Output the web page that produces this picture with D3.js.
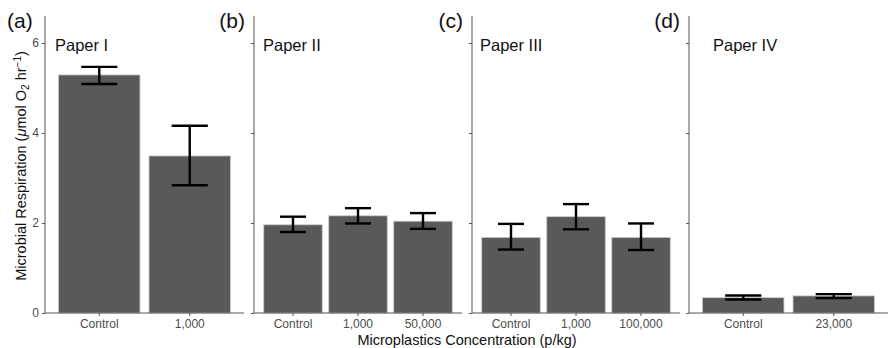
<!DOCTYPE html>
<html><head><meta charset="utf-8">
<script src="https://cdn.jsdelivr.net/npm/d3@7"></script>
<style>body{margin:0;background:#fff}svg{display:block;font-family:"Liberation Sans",Arial,sans-serif}</style>
</head><body><svg id="c" width="890" height="348"></svg>
<script>
const panelTags = ["(a)", "(b)", "(c)", "(d)"];
const panelTitles = ["Paper I", "Paper II", "Paper III", "Paper IV"];
const categoriesA = ["Control", "1,000"];
const categoriesB = ["Control", "1,000", "50,000"];
const categoriesC = ["Control", "1,000", "100,000"];
const categoriesD = ["Control", "23,000"];
const meansA = [5.29, 3.49];
const meansB = [1.96, 2.16, 2.04];
const meansC = [1.68, 2.14, 1.68];
const meansD = [0.34, 0.38];
const upperA = [5.47, 4.16];
const lowerA = [5.09, 2.84];
const upperB = [2.14, 2.33, 2.22];
const lowerB = [1.80, 1.99, 1.87];
const upperC = [1.98, 2.42, 1.99];
const lowerC = [1.41, 1.86, 1.40];
const upperD = [0.39, 0.42];
const lowerD = [0.30, 0.33];
const yTicks = [0, 2, 4, 6];
const yMax = 6.6;

const panels = [
  {cats: categoriesA, m: meansA, up: upperA, lo: lowerA, x0: 45, x1: 244, tx: 55},
  {cats: categoriesB, m: meansB, up: upperB, lo: lowerB, x0: 254, x1: 462, tx: 263},
  {cats: categoriesC, m: meansC, up: upperC, lo: lowerC, x0: 472, x1: 680, tx: 480},
  {cats: categoriesD, m: meansD, up: upperD, lo: lowerD, x0: 689, x1: 888, tx: 713}
];
const svg = d3.select("#c");
const yTop = 16, yBot = 313;
const y = d3.scaleLinear().domain([0, yMax]).range([yBot, yTop]);
const axisCol = "#555";
const fontFam = "Liberation Sans, Arial, sans-serif";

panels.forEach((p, i) => {
  const n = p.cats.length;
  const unit = (p.x1 - p.x0) / (n - 1 + 1.2);
  const x = d3.scaleBand().domain(p.cats)
    .range([p.x0 + 0.1 * unit, p.x1 - 0.1 * unit])
    .paddingInner(0.1).paddingOuter(0.05);
  const g = svg.append("g");
  const data = p.cats.map((c, j) => ({c, m: p.m[j], up: p.up[j], lo: p.lo[j]}));
  g.selectAll("rect").data(data).join("rect")
    .attr("x", d => x(d.c)).attr("width", x.bandwidth())
    .attr("y", d => y(d.m)).attr("height", d => y(0) - y(d.m))
    .attr("fill", "#595959").attr("stroke", "#c8c8c8").attr("stroke-width", 0.8);
  const cw = unit * 0.2;
  const cx = d => x(d.c) + x.bandwidth() / 2;
  const eb = g.selectAll("g.eb").data(data).join("g").attr("class", "eb")
    .attr("stroke", "#000").attr("stroke-width", 2.4).attr("fill", "none");
  eb.append("line").attr("x1", cx).attr("x2", cx)
    .attr("y1", d => y(d.up)).attr("y2", d => y(d.lo));
  eb.append("line").attr("x1", d => cx(d) - cw).attr("x2", d => cx(d) + cw)
    .attr("y1", d => y(d.up)).attr("y2", d => y(d.up));
  eb.append("line").attr("x1", d => cx(d) - cw).attr("x2", d => cx(d) + cw)
    .attr("y1", d => y(d.lo)).attr("y2", d => y(d.lo));

  const xa = g.append("g").attr("transform", `translate(0,${yBot})`)
    .call(d3.axisBottom(x).tickSize(3).tickPadding(3).tickSizeOuter(0));
  xa.select(".domain").attr("d", `M${p.x0},0H${p.x1}`).attr("stroke", axisCol);
  xa.selectAll(".tick line").attr("stroke", axisCol);
  xa.selectAll(".tick text").attr("fill", "#4d4d4d").style("font-size", "12px")
    .style("font-family", fontFam);
  const ya = g.append("g").attr("transform", `translate(${p.x0},0)`)
    .call(d3.axisLeft(y).tickValues(yTicks).tickFormat(d3.format("d")).tickSize(3).tickPadding(3).tickSizeOuter(0));
  ya.select(".domain").attr("d", `M0,${yTop}V${yBot}`).attr("stroke", axisCol);
  ya.selectAll(".tick line").attr("stroke", axisCol);
  ya.selectAll(".tick text").attr("fill", "#4d4d4d").style("font-size", "12px")
    .style("font-family", fontFam)
    .style("display", i === 0 ? null : "none");

  svg.append("text").attr("x", p.tx).attr("y", 51).attr("font-size", 16.5).attr("fill", "#111")
    .text(panelTitles[i]);
  const tagX = i === 0 ? 7 : p.x0 - 9;
  svg.append("text").attr("x", tagX).attr("y", 28).attr("font-size", 21).attr("fill", "#111")
    .attr("text-anchor", i === 0 ? "start" : "end").text(panelTags[i]);
});

const yt = svg.append("text").attr("transform", "translate(26,166) rotate(-90)")
  .attr("text-anchor", "middle").attr("font-size", 14.5).attr("fill", "#111");
yt.append("tspan").text("Microbial Respiration (");
yt.append("tspan").attr("font-style", "italic").text("μ");
yt.append("tspan").text("mol O");
yt.append("tspan").attr("font-size", 10).attr("dy", 3).text("2");
yt.append("tspan").attr("dy", -3).text(" hr");
yt.append("tspan").attr("font-size", 10).attr("dy", -5).text("−1");
yt.append("tspan").attr("dy", 5).text(")");

svg.append("text").attr("x", 467).attr("y", 345).attr("text-anchor", "middle")
  .attr("font-size", 14.5).attr("fill", "#111").text("Microplastics Concentration (p/kg)");
</script></body></html>
